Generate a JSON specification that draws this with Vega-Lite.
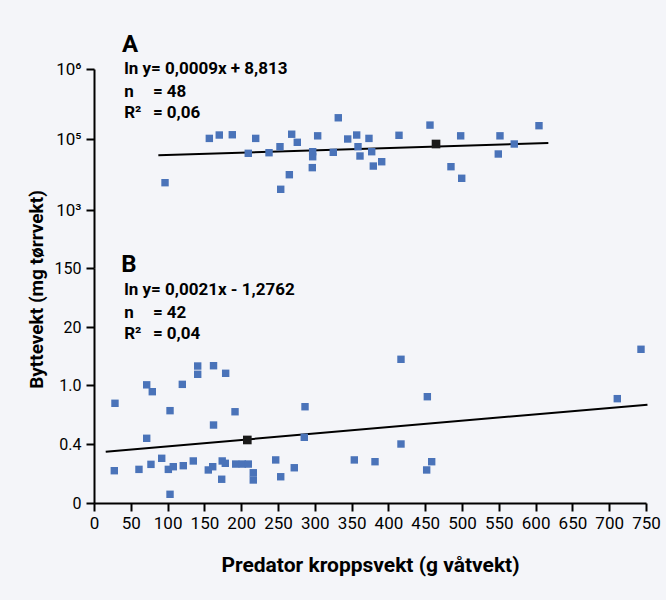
{
  "$schema": "https://vega.github.io/schema/vega-lite/v6.json",
  "width": 552,
  "height": 434,
  "autosize": "none",
  "padding": {"left": 94, "top": 69, "right": 20, "bottom": 97},
  "background": "#f4f5f9",
  "config": {
    "view": {"stroke": null},
    "axis": {
      "grid": false,
      "domainColor": "#000000",
      "domainWidth": 2,
      "tickColor": "#000000",
      "tickWidth": 2,
      "tickSize": 8,
      "labelColor": "#000000",
      "labelFont": "Roboto",
      "labelFontSize": 16,
      "titleColor": "#000000",
      "titleFont": "Roboto",
      "titleFontWeight": "bold",
      "titleFontSize": 19
    },
    "text": {"font": "Roboto", "fontWeight": "bold", "color": "#000000", "align": "left", "baseline": "middle"}
  },
  "datasets": {
    "A_pts": [
      {"x": 96.5, "y": 5880}, {"x": 156.7, "y": 102000}, {"x": 170.2, "y": 114000}, {"x": 187.9, "y": 115000},
      {"x": 219.7, "y": 102000}, {"x": 209.6, "y": 39500}, {"x": 237.8, "y": 41100}, {"x": 252.7, "y": 60700},
      {"x": 253.7, "y": 3830}, {"x": 265.4, "y": 9870}, {"x": 268.6, "y": 117000}, {"x": 276.2, "y": 80700},
      {"x": 297.1, "y": 43900}, {"x": 297.1, "y": 31700}, {"x": 296.6, "y": 15600}, {"x": 303.9, "y": 111000},
      {"x": 325.1, "y": 42200}, {"x": 331.9, "y": 201000}, {"x": 344.7, "y": 100000}, {"x": 356.9, "y": 114000},
      {"x": 358.7, "y": 60700}, {"x": 361.4, "y": 33200}, {"x": 373.6, "y": 102000}, {"x": 377.3, "y": 43900},
      {"x": 379.5, "y": 17300}, {"x": 390.9, "y": 22900}, {"x": 414.4, "y": 113000}, {"x": 456.5, "y": 158000},
      {"x": 485, "y": 16600}, {"x": 498.2, "y": 111000}, {"x": 499.6, "y": 7820}, {"x": 549.3, "y": 37800},
      {"x": 551.6, "y": 111000}, {"x": 571, "y": 72300}, {"x": 604.6, "y": 155000}
    ],
    "A_mean": [{"x": 464.7, "y": 72300}],
    "A_fit": [{"x": 87.4, "y": 34700}, {"x": 617.3, "y": 77100}],
    "A_letter": [{"x": 38, "y": 2200000, "text": "A"}],
    "A_stats": [
      {"x": 41, "y": 990000, "text": "ln y= 0,0009x + 8,813"},
      {"x": 41, "y": 474000, "text": "n"},
      {"x": 80, "y": 474000, "text": "= 48"},
      {"x": 41, "y": 238000, "text": "R²"},
      {"x": 80, "y": 238000, "text": "= 0,06"}
    ],
    "B_pts": [
      {"x": 28.5, "y": 0.814}, {"x": 27.6, "y": 0.219}, {"x": 61.1, "y": 0.228}, {"x": 71.6, "y": 1.056},
      {"x": 79.2, "y": 0.932}, {"x": 71.6, "y": 0.458}, {"x": 77.4, "y": 0.262}, {"x": 92, "y": 0.303},
      {"x": 103.3, "y": 0.739}, {"x": 101, "y": 0.228}, {"x": 107.7, "y": 0.246}, {"x": 103.3, "y": 0.059},
      {"x": 120, "y": 1.212}, {"x": 121.3, "y": 0.253}, {"x": 134.9, "y": 0.285}, {"x": 140.9, "y": 7.22},
      {"x": 140.9, "y": 4.51}, {"x": 155.3, "y": 0.224}, {"x": 161.3, "y": 0.246}, {"x": 162.4, "y": 7.32},
      {"x": 162.4, "y": 0.593}, {"x": 173.5, "y": 0.161}, {"x": 174.2, "y": 0.285}, {"x": 178.4, "y": 0.269},
      {"x": 178.9, "y": 4.83}, {"x": 191.6, "y": 0.728}, {"x": 192.5, "y": 0.264}, {"x": 201.5, "y": 0.264},
      {"x": 209.6, "y": 0.264}, {"x": 216.4, "y": 0.205}, {"x": 216.4, "y": 0.156}, {"x": 246.9, "y": 0.292},
      {"x": 253.7, "y": 0.178}, {"x": 272.1, "y": 0.239}, {"x": 286.7, "y": 0.779}, {"x": 285.7, "y": 0.468},
      {"x": 353.7, "y": 0.292}, {"x": 381.8, "y": 0.28}, {"x": 417.1, "y": 9.42}, {"x": 417.1, "y": 0.4},
      {"x": 452.9, "y": 0.881}, {"x": 452, "y": 0.224}, {"x": 458.8, "y": 0.28}, {"x": 711, "y": 0.861},
      {"x": 743.2, "y": 12.7}
    ],
    "B_mean": [{"x": 208.3, "y": 0.441}],
    "B_fit": [{"x": 15.9, "y": 0.348}, {"x": 752, "y": 0.8}],
    "B_letter": [{"x": 37, "y": 156, "text": "B"}],
    "B_stats": [
      {"x": 41, "y": 101.5, "text": "ln y= 0,0021x - 1,2762"},
      {"x": 41, "y": 51.5, "text": "n"},
      {"x": 80, "y": 51.5, "text": "= 42"},
      {"x": 41, "y": 17.6, "text": "R²"},
      {"x": 80, "y": 17.6, "text": "= 0,04"}
    ]
  },
  "encoding": {
    "x": {
      "field": "x",
      "type": "quantitative",
      "scale": {"domain": [0, 750], "nice": false, "zero": false},
      "axis": {
        "values": [0, 50, 100, 150, 200, 250, 300, 350, 400, 450, 500, 550, 600, 650, 700, 750],
        "labelOverlap": false,
        "labelFlush": false,
        "labelFontSize": 17,
        "labelPadding": 4,
        "title": "Predator kroppsvekt (g våtvekt)",
        "titleFontSize": 21,
        "titleY": 68,
        "titleBaseline": "alphabetic"
      }
    }
  },
  "layer": [
    {
      "encoding": {
        "y": {
          "field": "y",
          "type": "quantitative",
          "scale": {"type": "log", "domain": [100, 1000, 100000, 1000000], "range": [199, 141, 70, 0], "nice": false, "zero": false},
          "axis": {
            "orient": "left",
            "values": [1000, 100000, 1000000],
            "labelExpr": "datum.value == 1000000 ? '10⁶' : datum.value == 100000 ? '10⁵' : '10³'",
            "labelFontSize": 17,
            "labelPadding": 5,
            "labelOverlap": false,
            "title": null
          }
        }
      },
      "layer": [
        {"data": {"name": "A_fit"}, "mark": {"type": "line", "color": "#000000", "strokeWidth": 2}},
        {"data": {"name": "A_pts"}, "mark": {"type": "point", "shape": "square", "filled": true, "size": 55, "color": "#4a73b9", "opacity": 1}},
        {"data": {"name": "A_mean"}, "mark": {"type": "point", "shape": "square", "filled": true, "size": 75, "color": "#1a1a1a", "opacity": 1}},
        {"data": {"name": "A_letter"}, "mark": {"type": "text", "fontSize": 24}, "encoding": {"text": {"field": "text"}}},
        {"data": {"name": "A_stats"}, "mark": {"type": "text", "fontSize": 17}, "encoding": {"text": {"field": "text"}}}
      ]
    },
    {
      "encoding": {
        "y": {
          "field": "y",
          "type": "quantitative",
          "scale": {"domain": [0, 0.4, 1, 20, 150], "range": [434, 375, 316, 258, 199], "nice": false, "zero": false},
          "axis": {
            "orient": "left",
            "values": [0, 0.4, 1, 20, 150],
            "labelExpr": "datum.value == 1 ? '1.0' : datum.value == 0.4 ? '0.4' : format(datum.value, 'd')",
            "labelPadding": 5,
            "labelOverlap": false,
            "title": "Byttevekt (mg tørrvekt)",
            "titleX": -52,
            "titleY": 220,
            "titleAngle": 270,
            "titleAlign": "center",
            "titleBaseline": "alphabetic"
          }
        }
      },
      "layer": [
        {"data": {"name": "B_fit"}, "mark": {"type": "line", "color": "#000000", "strokeWidth": 2}},
        {"data": {"name": "B_pts"}, "mark": {"type": "point", "shape": "square", "filled": true, "size": 55, "color": "#4a73b9", "opacity": 1}},
        {"data": {"name": "B_mean"}, "mark": {"type": "point", "shape": "square", "filled": true, "size": 75, "color": "#1a1a1a", "opacity": 1}},
        {"data": {"name": "B_letter"}, "mark": {"type": "text", "fontSize": 24}, "encoding": {"text": {"field": "text"}}},
        {"data": {"name": "B_stats"}, "mark": {"type": "text", "fontSize": 17}, "encoding": {"text": {"field": "text"}}}
      ]
    }
  ],
  "resolve": {"scale": {"y": "independent"}, "axis": {"y": "independent"}}
}
